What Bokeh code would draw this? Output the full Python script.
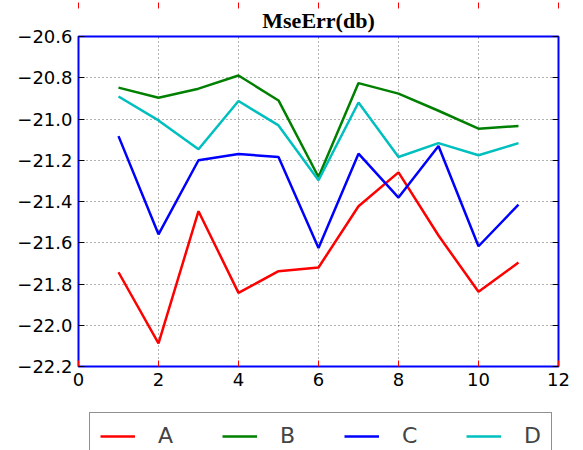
from bokeh.plotting import figure
from bokeh.layouts import column
from bokeh.models import (Legend, LegendItem, LinearAxis, FixedTicker,
                          CustomJSTickFormatter, Range1d, Title)
from bokeh.embed import file_html
from bokeh.resources import INLINE

# ---- data ----
x_vals = [1, 2, 3, 4, 5, 6, 7, 8, 9, 10, 11]
series_a = [-21.743, -22.088, -21.447, -21.843, -21.738, -21.720, -21.423, -21.259, -21.565, -21.838, -21.696]
series_b = [-20.848, -20.897, -20.853, -20.789, -20.910, -21.281, -20.826, -20.877, -20.960, -21.047, -21.034]
series_c = [-21.083, -21.559, -21.200, -21.170, -21.184, -21.625, -21.168, -21.381, -21.131, -21.617, -21.415]
series_d = [-20.891, -21.007, -21.147, -20.913, -21.031, -21.297, -20.920, -21.184, -21.117, -21.176, -21.117]
series_names = ["A", "B", "C", "D"]
series_colors = ["#ff0000", "#008000", "#0000ff", "#00bfbf"]
x_ticks = [0, 2, 4, 6, 8, 10, 12]
y_ticks = [-22.2, -22.0, -21.8, -21.6, -21.4, -21.2, -21.0, -20.8, -20.6]
title_text = "MseErr(db)"
all_series = [series_a, series_b, series_c, series_d]

W = 578
p = figure(frame_width=480, frame_height=330,
           min_border_left=78, min_border_right=W - 78 - 480,
           min_border_top=36, min_border_bottom=34,
           x_range=Range1d(0, 12), y_range=Range1d(-22.2, -20.6),
           output_backend="svg", toolbar_location=None, title=None)

p.add_layout(Title(text=title_text, text_font="Liberation Serif",
                   text_font_size="22px", text_font_style="bold",
                   align="center", standoff=7, text_color="black"), "above")

p.outline_line_color = "#0000ff"
p.outline_line_width = 2
p.background_fill_color = "white"
p.border_fill_color = "white"

for ys, c in zip(all_series, series_colors):
    p.line(x_vals, ys, line_color=c, line_width=2.5)

fmt = CustomJSTickFormatter(code="return tick.toFixed(1).replace('-', '\\u2212');")
blank = CustomJSTickFormatter(code="return '';")

xa = p.xaxis[0]
xa.ticker = FixedTicker(ticks=x_ticks)
ya = p.yaxis[0]
ya.ticker = FixedTicker(ticks=y_ticks)
ya.formatter = fmt

for ax, tick_color in [(xa, "#ff0000"), (ya, "black")]:
    ax.axis_line_color = None
    ax.major_tick_in = 6
    ax.major_tick_out = 0
    ax.major_tick_line_color = tick_color
    ax.minor_tick_line_color = None
    ax.major_label_text_font = "DejaVu Sans"
    ax.major_label_text_font_size = "18px"
    ax.major_label_text_color = "black"
    ax.major_label_standoff = 6

# top / right axes: ticks only
xt = LinearAxis(ticker=FixedTicker(ticks=x_ticks), formatter=blank)
yr = LinearAxis(ticker=FixedTicker(ticks=y_ticks), formatter=blank)
for ax, tick_color in [(xt, "#ff0000"), (yr, "black")]:
    ax.axis_line_color = None
    ax.major_tick_in = 6
    ax.major_tick_out = 0
    ax.major_tick_line_color = tick_color
    ax.minor_tick_line_color = None
    ax.major_label_text_font_size = "1px"
    ax.major_label_standoff = 0
p.add_layout(xt, "above")
p.add_layout(yr, "right")

p.xgrid[0].ticker = FixedTicker(ticks=x_ticks)
p.ygrid[0].ticker = FixedTicker(ticks=y_ticks)
for g in (p.xgrid[0], p.ygrid[0]):
    g.grid_line_color = "black"
    g.grid_line_alpha = 0.6
    g.grid_line_width = 1
    g.grid_line_dash = "1 3"

# ---- legend strip below the chart (series lines lie outside its view) ----
p2 = figure(width=W, height=50, min_border=0, output_backend="svg",
            toolbar_location=None, x_axis_type=None, y_axis_type=None,
            x_range=Range1d(0, 12), y_range=Range1d(0, 1))
p2.outline_line_color = None
p2.grid.visible = False
p2.background_fill_color = "white"
p2.border_fill_color = "white"
proxies = [p2.line(x_vals, ys, line_color=c, line_width=2.5)
           for ys, c in zip(all_series, series_colors)]

legend = Legend(items=[LegendItem(label=n, renderers=[r]) for n, r in zip(series_names, proxies)],
                orientation="horizontal", location=(11, -9), margin=0,
                border_line_color="#222222", border_line_width=1,
                background_fill_color="white", background_fill_alpha=1,
                label_text_font="DejaVu Sans", label_text_font_size="22px",
                glyph_width=35, glyph_height=20, label_standoff=23, label_width=17,
                spacing=47, padding=10)
p2.add_layout(legend, "center")

open("out.html", "w").write(file_html(column(p, p2, spacing=0), INLINE))
